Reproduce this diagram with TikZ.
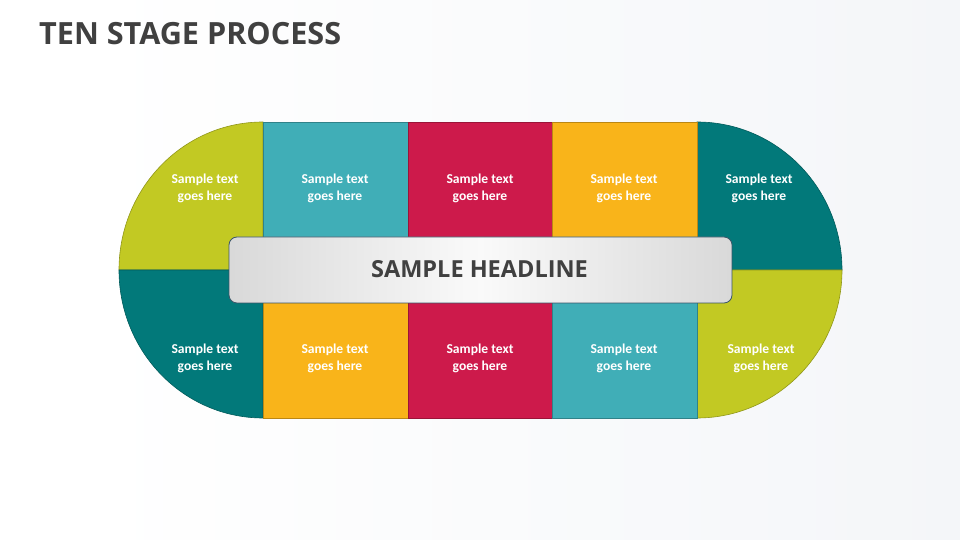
\documentclass[tikz,border=0pt]{standalone}
\usepackage{fontspec}
\setmainfont{Carlito}
\newfontfamily\titlefont{Open Sans}
\definecolor{cLime}{HTML}{C2C923}
\definecolor{cTeal}{HTML}{40AEB7}
\definecolor{cRed}{HTML}{CD1A4B}
\definecolor{cOrange}{HTML}{F9B41A}
\definecolor{cDark}{HTML}{02797A}
\definecolor{cTitle}{HTML}{404040}
\definecolor{cEdge}{HTML}{3B5668}
\definecolor{cBg}{HTML}{EEF1F5}
\pgfdeclarehorizontalshading{bgshade}{100bp}{color(0bp)=(white); color(30bp)=(white); color(100bp)=(cBg)}
\tikzset{
  seg/.style={fill=#1, draw=#1!75!black, line width=0.6pt},
  stxt/.style={text=white, align=center, inner sep=0pt,
    font=\bfseries\fontsize{13.6}{17}\selectfont},
}
\begin{document}
\begin{tikzpicture}[x=1pt,y=1pt]
\useasboundingbox (0,0) rectangle (960,540);
\fill[cBg] (0,0) rectangle (960,540);
\shade[shading=bgshade] (0,0) rectangle (960,540);
% title
\node[anchor=base west, inner sep=0pt, text=cTitle,
  font=\titlefont\bfseries\fontsize{30.6}{36}\selectfont] (title) at (39,495) {TEN STAGE PROCESS};
% left cap
\path[seg=cLime] (263,270) -- (119,270) arc[start angle=180,end angle=90,x radius=144,y radius=148] -- cycle;
\path[seg=cDark] (263,270) -- (263,122) arc[start angle=270,end angle=180,x radius=144,y radius=148] -- cycle;
% right cap
\path[seg=cDark] (697,270) -- (697,418) arc[start angle=90,end angle=0,x radius=145,y radius=148] -- cycle;
\path[seg=cLime] (697,270) -- (842,270) arc[start angle=0,end angle=-90,x radius=145,y radius=148] -- cycle;
% columns top
\path[seg=cTeal] (263,270) rectangle (408,418);
\path[seg=cRed] (408,270) rectangle (552,418);
\path[seg=cOrange] (552,270) rectangle (697,418);
% columns bottom
\path[seg=cOrange] (263,122) rectangle (408,270);
\path[seg=cRed] (408,122) rectangle (552,270);
\path[seg=cTeal] (552,122) rectangle (697,270);
% headline
\node[draw=cEdge, line width=0.8pt, rounded corners=8pt,
  left color=black!15, right color=black!15, middle color=black!2,
  minimum width=503pt, minimum height=66pt, inner sep=0pt] (head) at (480.5,270) {};
\node[anchor=base, inner sep=0pt, text=cTitle,
  font=\titlefont\bfseries\fontsize{23.5}{28}\selectfont] (headtxt) at (479.5,262) {SAMPLE HEADLINE};
% texts top
\node[stxt] (t1) at (205,352) {Sample text\\goes here};
\node[stxt] (t2) at (335,352) {Sample text\\goes here};
\node[stxt] (t3) at (480,352) {Sample text\\goes here};
\node[stxt] (t4) at (624,352) {Sample text\\goes here};
\node[stxt] (t5) at (759,352) {Sample text\\goes here};
% texts bottom
\node[stxt] (b1) at (205,182) {Sample text\\goes here};
\node[stxt] (b2) at (335,182) {Sample text\\goes here};
\node[stxt] (b3) at (480,182) {Sample text\\goes here};
\node[stxt] (b4) at (624,182) {Sample text\\goes here};
\node[stxt] (b5) at (761,182) {Sample text\\goes here};
\end{tikzpicture}
\end{document}
